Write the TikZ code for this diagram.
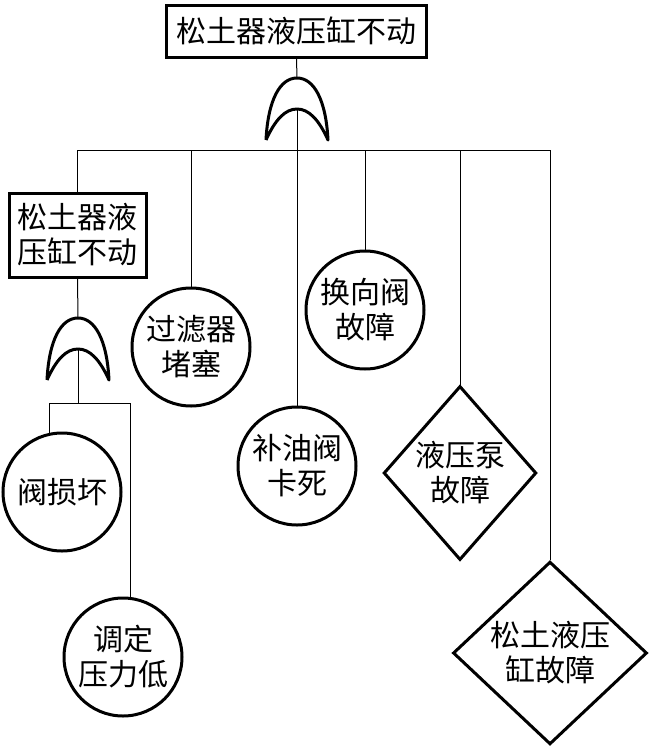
\documentclass[tikz,border=0pt]{standalone}
\usepackage{fontspec}
\newfontfamily\cjk{Noto Sans CJK SC}
\usetikzlibrary{shapes.geometric}
\begin{document}
\begin{tikzpicture}[x=1pt,y=-1pt,
  every node/.style={font=\cjk\fontsize{30}{35}\selectfont, align=center, inner sep=0pt},
  evbox/.style={draw, rectangle, line width=3pt},
  basic/.style={draw, circle, line width=3pt, minimum size=118pt},
  undev/.style={draw, diamond, line width=3pt},
  conn/.style={line width=1pt},
  orgate/.pic={
    \draw[line width=3pt, line join=round]
      (-31,62) .. controls (-29,22) and (-17,0) .. (0,0)
      .. controls (17,0) and (29,22) .. (31,62)
      .. controls (22,42) and (12,31) .. (0,31)
      .. controls (-12,31) and (-22,42) .. (-31,62);
    \coordinate (-top) at (0,0);
    \coordinate (-in) at (0,31);
  }
]
\useasboundingbox (0,0) rectangle (648,747);

% events
\node[evbox, minimum width=260pt, minimum height=52pt] (top) at (296.5,31) {松土器液压缸不动};
\node[evbox, minimum width=137pt, minimum height=84pt] (sub) at (77.5,235) {松土器液\\压缸不动};

\node[basic] (c1) at (191,347) {过滤器\\堵塞};
\node[basic] (c2) at (297,466) {补油阀\\卡死};
\node[basic] (c3) at (365,310) {换向阀\\故障};
\node[basic] (c4) at (62,492) {阀损坏};
\node[basic] (c5) at (123,657) {调定\\压力低};

\node[undev, minimum width=152pt, minimum height=174pt] (d1) at (460,473) {液压泵\\故障};
\node[undev, minimum width=194pt, minimum height=180pt] (d2) at (550,653) {松土液压\\缸故障};

% gates
\pic (g1) at (297,78) {orgate};
\pic (g2) at (78,318) {orgate};

\coordinate (bus1) at (297,150);
\coordinate (bus2) at (78,403);

% connectors level 1
\draw[conn] (top.south) -- (g1-top);
\draw[conn] (g1-in) -- (bus1);
\draw[conn] (sub.north |- bus1) -- (d2.north |- bus1);
\draw[conn] (sub.north |- bus1) -- (sub.north);
\draw[conn] (c1.north |- bus1) -- (c1.north);
\draw[conn] (c2.north |- bus1) -- (c2.north);
\draw[conn] (c3.north |- bus1) -- (c3.north);
\draw[conn] (d1.north |- bus1) -- (d1.north);
\draw[conn] (d2.north |- bus1) -- (d2.north);

% connectors level 2
\draw[conn] (sub.south) -- (g2-top);
\draw[conn] (g2-in) -- (bus2);
\draw[conn] (c4.102.5 |- bus2) -- (c5.83.3 |- bus2);
\draw[conn] (c4.102.5 |- bus2) -- (c4.102.5);
\draw[conn] (c5.83.3 |- bus2) -- (c5.83.3);
\end{tikzpicture}
\end{document}
